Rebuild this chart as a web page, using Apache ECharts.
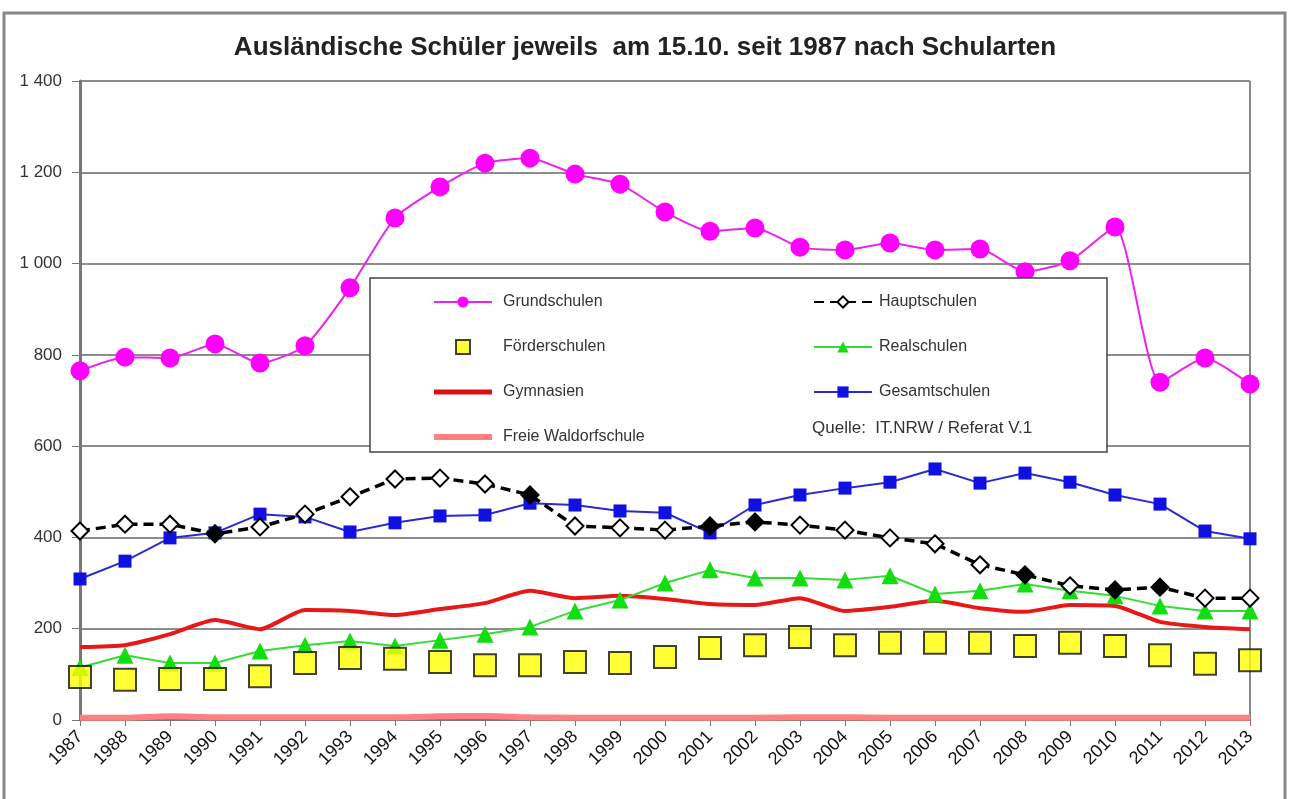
<!DOCTYPE html>
<html>
<head>
<meta charset="utf-8">
<script src="https://cdn.jsdelivr.net/npm/echarts@6/dist/echarts.min.js"></script>
<style>
  html, body { margin: 0; padding: 0; background: #fff; }
  #main { width: 1290px; height: 799px; }
</style>
</head>
<body>
<div id="main"></div>
<script>
// Jahre (x-Achse)
let years = ['1987','1988','1989','1990','1991','1992','1993','1994','1995','1996','1997','1998','1999','2000',
  '2001','2002','2003','2004','2005','2006','2007','2008','2009','2010','2011','2012','2013'];

// Werte je Schulart
let grundschulen = [765, 795, 793, 824, 782, 820, 947, 1100, 1168, 1220, 1231, 1196, 1174, 1113,
  1071, 1078, 1036, 1030, 1045, 1030, 1032, 982, 1006, 1080, 740, 793, 736];
let hauptschulen = [414, 429, 429, 408, 423, 451, 489, 528, 530, 517, 493, 425, 421, 416,
  425, 434, 427, 416, 399, 386, 340, 318, 294, 285, 291, 267, 267];
let foerderschulen = [94, 88, 90, 90, 96, 125, 136, 134, 127, 120, 120, 127, 125, 138,
  158, 164, 182, 164, 169, 169, 169, 162, 169, 162, 142, 123, 131];
let realschulen = [115, 142, 125, 125, 151, 164, 173, 162, 175, 188, 204, 239, 263, 300,
  329, 311, 311, 307, 316, 276, 283, 298, 283, 272, 250, 239, 239];
let gymnasien = [160, 164, 188, 219, 199, 241, 239, 230, 243, 256, 283, 267, 272, 265,
  254, 252, 267, 239, 248, 261, 245, 237, 252, 250, 215, 204, 199];
let gesamtschulen = [309, 348, 399, 410, 451, 445, 412, 432, 447, 449, 475, 471, 458, 454,
  410, 471, 493, 508, 521, 550, 519, 541, 521, 493, 473, 414, 397];
let waldorf = [5, 5, 8, 6, 6, 6, 6, 6, 8, 9, 6, 5, 5, 5,
  5, 5, 6, 6, 5, 5, 5, 5, 5, 5, 5, 5, 5];

// Hauptschulen: Jahre mit ausgefüllter Raute
let hauptGefuellt = ['1990', '1997', '2001', '2002', '2008', '2010', '2011'];

let myChart = echarts.init(document.getElementById('main'));

let font = 'Liberation Sans, Arial, sans-serif';

let option = {
  animation: false,
  backgroundColor: '#fff',
  textStyle: { fontFamily: font },

  title: {
    text: 'Ausländische Schüler jeweils  am 15.10. seit 1987 nach Schularten',
    left: 'center',
    top: 30,
    textStyle: { fontFamily: font, fontSize: 26, fontWeight: 'bold', color: '#222' }
  },

  grid: { left: 80, right: 40, top: 81, bottom: 79 },

  // zwei Legenden-Spalten im Kasten
  legend: [
    {
      data: [
        'Grundschulen',
        { name: 'Förderschulen', icon: 'path://M0,0L10,0L10,10L0,10Z' },
        { name: 'Gymnasien', icon: 'path://M0,0L58,0L58,5L0,5Z' },
        { name: 'Freie Waldorfschule', icon: 'path://M0,0L58,0L58,6L0,6Z' }
      ],
      orient: 'vertical',
      left: 428, top: 289, z: 20,
      itemWidth: 58, itemHeight: 14, itemGap: 29,
      textStyle: { fontFamily: font, fontSize: 16, color: '#333', padding: [0, 0, 0, 6] }
    },
    {
      data: ['Hauptschulen', 'Realschulen', 'Gesamtschulen'],
      orient: 'vertical',
      left: 808, top: 289, z: 20,
      itemWidth: 58, itemHeight: 14, itemGap: 29,
      textStyle: { fontFamily: font, fontSize: 16, color: '#333', padding: [0, 0, 0, 2] }
    }
  ],

  xAxis: {
    type: 'category',
    data: years,
    boundaryGap: false,
    axisLine: { lineStyle: { color: '#777', width: 2 } },
    axisTick: { show: true, length: 6, alignWithLabel: true, lineStyle: { color: '#777' } },
    axisLabel: { rotate: 45, fontSize: 18, color: '#111', margin: 14, interval: 0 }
  },

  yAxis: {
    type: 'value',
    min: 0, max: 1400, interval: 200,
    axisLine: { show: true, lineStyle: { color: '#777', width: 3 } },
    axisTick: { show: true, length: 8, lineStyle: { color: '#777' } },
    axisLabel: {
      fontSize: 17, color: '#333', margin: 18,
      formatter: function (v) { return v >= 1000 ? Math.floor(v / 1000) + ' ' + String(v % 1000).padStart(3, '0') : v; }
    },
    splitLine: { lineStyle: { color: '#666', width: 1.5 } }
  },

  series: [
    {
      name: 'Freie Waldorfschule', type: 'line', data: waldorf,
      symbol: 'none', smooth: 0.3,
      lineStyle: { color: '#ff8080', width: 6 }, itemStyle: { color: '#ff8080' }, z: 2
    },
    {
      name: 'Gymnasien', type: 'line', data: gymnasien,
      symbol: 'none', smooth: 0.2,
      lineStyle: { color: '#e81818', width: 4 }, itemStyle: { color: '#d81010' }, z: 3
    },
    {
      name: 'Realschulen', type: 'line', data: realschulen,
      symbol: 'triangle', symbolSize: 17,
      lineStyle: { color: '#33dd33', width: 2 }, itemStyle: { color: '#11dd11' }, z: 4
    },
    {
      name: 'Förderschulen', type: 'scatter', data: foerderschulen,
      symbol: 'rect', symbolSize: 22,
      itemStyle: { color: '#ffff00', borderColor: '#111', borderWidth: 2 }, z: 5
    },
    {
      name: 'Gesamtschulen', type: 'line', data: gesamtschulen,
      symbol: 'rect', symbolSize: 13,
      lineStyle: { color: '#2a2ad0', width: 2 }, itemStyle: { color: '#1010e0' }, z: 6
    },
    {
      name: 'Hauptschulen', type: 'line',
      data: hauptschulen.map(function (v, i) {
        let voll = hauptGefuellt.indexOf(years[i]) >= 0;
        return { value: v, itemStyle: { color: voll ? '#000' : '#fff' } };
      }),
      symbol: 'diamond', symbolSize: 17,
      lineStyle: { color: '#000', width: 3.5, type: [10, 6] },
      itemStyle: { color: '#fff', borderColor: '#000', borderWidth: 2 }, z: 7
    },
    {
      name: 'Grundschulen', type: 'line', data: grundschulen,
      symbol: 'circle', symbolSize: 19, smooth: 0.2,
      lineStyle: { color: '#ee22ee', width: 2 }, itemStyle: { color: '#ff00ff' }, z: 8
    }
  ],

  graphic: [
    // äußerer Rahmen
    { type: 'rect', shape: { x: 4, y: 13, width: 1281, height: 800 }, silent: true,
      style: { fill: null, stroke: '#888', lineWidth: 3 }, z: 0 },
    // rechte Begrenzung der Zeichenfläche
    { type: 'line', shape: { x1: 1250, y1: 81, x2: 1250, y2: 720 }, silent: true,
      style: { stroke: '#888', lineWidth: 2 }, z: 1 },
    // Legendenkasten
    { type: 'rect', shape: { x: 370, y: 278, width: 737, height: 174 }, silent: true,
      style: { fill: '#fff', stroke: '#444', lineWidth: 1.5 }, z: 9 },
    { type: 'text', left: 812, top: 420, silent: true, z: 11,
      style: { text: 'Quelle:  IT.NRW / Referat V.1', font: '17px ' + font, fill: '#333' } }
  ]
};

myChart.setOption(option);
</script>
</body>
</html>
